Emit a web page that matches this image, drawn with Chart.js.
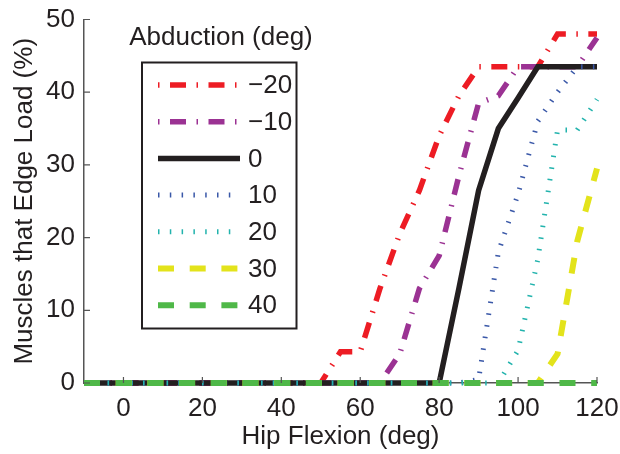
<!DOCTYPE html>
<html>
<head>
<meta charset="utf-8">
<script src="https://cdn.jsdelivr.net/npm/chart.js@4.4.1/dist/chart.umd.min.js"></script>
<style>
  html, body { margin: 0; padding: 0; background: #fff; }
  #wrap { width: 620px; height: 454px; }
</style>
</head>
<body>
<div id="wrap"><canvas id="grafico"></canvas></div>
<script>
// hip flexion angles (deg)
const hipFlexion = [-10, -5, 0, 5, 10, 15, 20, 25, 30, 35, 40, 45, 50, 55, 60, 65, 70, 75, 80, 85, 90, 95, 100, 105, 110, 115, 120];

// muscles that edge load (%) for each abduction angle
const abdMinus20 = [0, 0, 0, 0, 0, 0, 0, 0, 0, 0, 0, 0, 0, 4.3, 4.3, 13, 20.5, 26.5, 34, 39.5, 43.5, 43.5, 43.5, 43.5, 48, 48, 48];
const abdMinus10 = [0, 0, 0, 0, 0, 0, 0, 0, 0, 0, 0, 0, 0, 0, 0, 0, 4, 13, 17.5, 28.5, 38.5, 39.5, 43.5, 43.5, 43.5, 43.5, 47.5];
const abd0 = [0, 0, 0, 0, 0, 0, 0, 0, 0, 0, 0, 0, 0, 0, 0, 0, 0, 0, 0, 13, 26.5, 35, 39.2, 43.5, 43.5, 43.5, 43.5];
const abd10 = [0, 0, 0, 0, 0, 0, 0, 0, 0, 0, 0, 0, 0, 0, 0, 0, 0, 0, 0, 0, 0.5, 18, 26, 36, 40, 43.5, 43.5];
const abd20 = [0, 0, 0, 0, 0, 0, 0, 0, 0, 0, 0, 0, 0, 0, 0, 0, 0, 0, 0, 0, 0, 0, 4.5, 17, 34.8, 34.8, 39];
const abd30 = [0, 0, 0, 0, 0, 0, 0, 0, 0, 0, 0, 0, 0, 0, 0, 0, 0, 0, 0, 0, 0, 0, 0, 0, 4, 19.5, 29.5];
const abd40 = [0, 0, 0, 0, 0, 0, 0, 0, 0, 0, 0, 0, 0, 0, 0, 0, 0, 0, 0, 0, 0, 0, 0, 0, 0, 0, 0];

const seriesLabels = ['\u221220', '\u221210', '0', '10', '20', '30', '40'];
const xTicks = [0, 20, 40, 60, 80, 100, 120];
const yTicks = [0, 10, 20, 30, 40, 50];

const textColor = '#231f20';
const axisColor = '#555555';
const fontFamily = '"Liberation Sans", Arial, Helvetica, sans-serif';

Chart.defaults.font.family = fontFamily;
Chart.defaults.font.size = 26;
Chart.defaults.color = textColor;

function pontos(valores) {
    return hipFlexion.map((x, i) => ({ x: x, y: valores[i] }));
}

const dashDot = [16, 10.5, 1.5, 10.5];
const dotted = [1.5, 10.3];
const dashed = [16, 15.7];

const estilos = [
    { color: '#ed1c24', width: 5.5, dash: dashDot, legendOffset: 26.5 },
    { color: '#9b3293', width: 5.5, dash: dashDot, legendOffset: 26.5 },
    { color: '#231f20', width: 5.5, dash: [], legendOffset: 0 },
    { color: '#3a58a8', width: 5, dash: dotted, legendOffset: 0 },
    { color: '#22b3ad', width: 5, dash: dotted, legendOffset: 0 },
    { color: '#e3e31b', width: 6, dash: dashed, legendOffset: 0 },
    { color: '#4fb848', width: 6, dash: dashed, legendOffset: 0 }
];

const valores = [abdMinus20, abdMinus10, abd0, abd10, abd20, abd30, abd40];

const datasets = valores.map((v, i) => ({
    label: seriesLabels[i],
    data: pontos(v),
    borderColor: estilos[i].color,
    backgroundColor: estilos[i].color,
    borderWidth: estilos[i].width,
    borderDash: estilos[i].dash,
    borderCapStyle: 'butt',
    borderJoinStyle: 'miter',
    pointRadius: 0,
    tension: 0,
    fill: false,
    clip: false,
    order: valores.length - 1 - i // later series drawn on top
}));

// ticks pointing into the plot, like the original
const ticksInternos = {
    id: 'ticksInternos',
    afterDraw(chart) {
        const ctx = chart.ctx;
        const x = chart.scales.x, y = chart.scales.y;
        const area = chart.chartArea;
        ctx.save();
        ctx.strokeStyle = axisColor;
        ctx.lineWidth = 1.2;
        ctx.beginPath();
        xTicks.forEach(v => {
            const px = x.getPixelForValue(v);
            ctx.moveTo(px, area.bottom);
            ctx.lineTo(px, area.bottom - 6);
        });
        yTicks.forEach(v => {
            const py = y.getPixelForValue(v);
            ctx.moveTo(area.left, py);
            ctx.lineTo(area.left + 6, py);
        });
        ctx.stroke();
        ctx.restore();
    }
};

// legend box with its title above it
const legendaCaixa = {
    id: 'legendaCaixa',
    afterDraw(chart) {
        const ctx = chart.ctx;
        const box = { left: 142, top: 62.5, right: 296.5, bottom: 328.5 };
        const rowStart = 85, rowStep = 36.7;
        ctx.save();
        ctx.font = '26px ' + fontFamily;
        ctx.fillStyle = textColor;
        ctx.textAlign = 'center';
        ctx.textBaseline = 'middle';
        ctx.fillText('Abduction (deg)', 221, 38);

        ctx.fillStyle = '#ffffff';
        ctx.fillRect(box.left, box.top, box.right - box.left, box.bottom - box.top);
        ctx.strokeStyle = textColor;
        ctx.lineWidth = 2;
        ctx.strokeRect(box.left, box.top, box.right - box.left, box.bottom - box.top);

        chart.data.datasets.forEach((ds, i) => {
            const yy = rowStart + i * rowStep;
            ctx.beginPath();
            ctx.strokeStyle = ds.borderColor;
            ctx.lineWidth = ds.borderWidth;
            ctx.lineCap = 'butt';
            ctx.setLineDash(ds.borderDash);
            ctx.lineDashOffset = estilos[i].legendOffset;
            ctx.moveTo(158, yy);
            ctx.lineTo(240, yy);
            ctx.stroke();
            ctx.setLineDash([]);
            ctx.fillStyle = textColor;
            ctx.textAlign = 'left';
            ctx.fillText(ds.label, 248, yy + 1);
        });
        ctx.restore();
    }
};

new Chart(document.getElementById('grafico'), {
    type: 'line',
    data: { datasets: datasets },
    options: {
        responsive: true,
        maintainAspectRatio: false,
        animation: false,
        layout: { padding: 0 },
        scales: {
            x: {
                type: 'linear',
                min: -10,
                max: 120,
                afterBuildTicks: scale => { scale.ticks = xTicks.map(v => ({ value: v })); },
                afterFit: scale => {
                    scale.height = 71;
                    scale.paddingLeft = 0;
                    scale.paddingRight = 23;
                },
                grid: { display: false, drawTicks: false },
                border: { display: true, color: axisColor, width: 1.5 },
                ticks: { padding: 10, maxRotation: 0, autoSkip: false },
                title: {
                    display: true,
                    text: 'Hip Flexion (deg)',
                    padding: { top: 0, bottom: 2 }
                }
            },
            y: {
                type: 'linear',
                min: 0,
                max: 50,
                afterBuildTicks: scale => { scale.ticks = yTicks.map(v => ({ value: v })); },
                afterFit: scale => {
                    scale.width = 84;
                    scale.paddingTop = 19.5;
                    scale.paddingBottom = 0;
                },
                grid: { display: false, drawTicks: false },
                border: { display: true, color: axisColor, width: 1.5 },
                ticks: { padding: 9 },
                title: {
                    display: true,
                    text: 'Muscles that Edge Load (%)',
                    padding: { top: 9, bottom: 0 }
                }
            }
        },
        plugins: {
            legend: { display: false },
            tooltip: { enabled: false }
        }
    },
    plugins: [ticksInternos, legendaCaixa]
});
</script>
</body>
</html>
